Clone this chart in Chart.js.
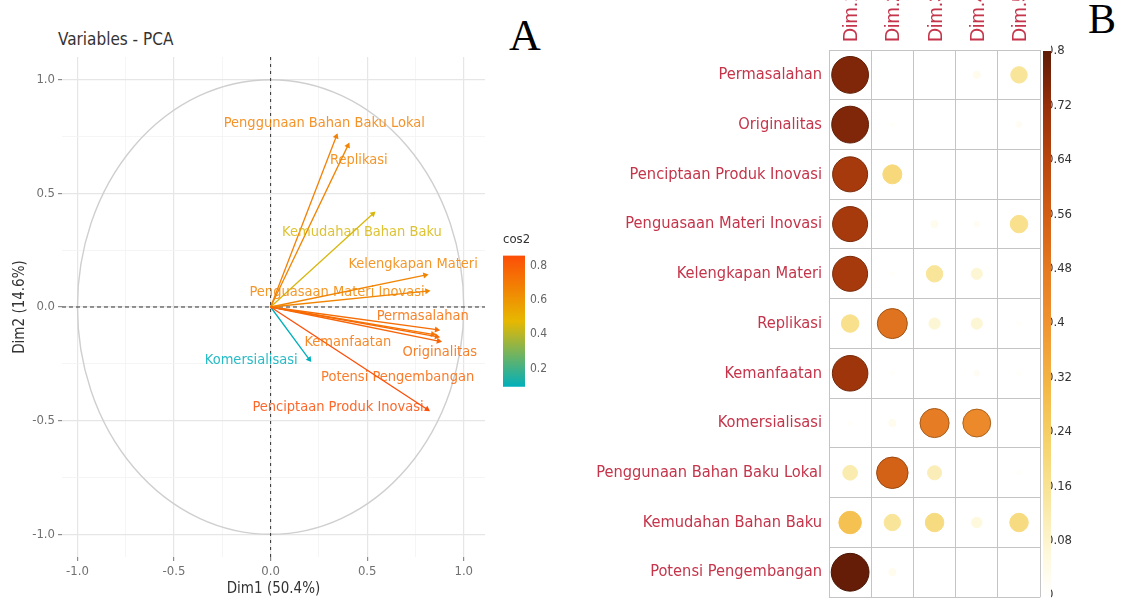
<!DOCTYPE html>
<html>
<head>
<meta charset="utf-8">
<script src="https://cdn.jsdelivr.net/npm/chart.js@4.4.1/dist/chart.umd.min.js"></script>
<style>
  html, body { margin:0; padding:0; background:#fff; width:1122px; height:598px; overflow:hidden; position:relative; }
  canvas { position:absolute; }
  #pca { left:0; top:0; }
  #cosbar { left:498px; top:224px; }
  #cor { left:560px; top:-60px; }
  #corbar { left:1030px; top:0; }
  .tag { position:absolute; font-family:"Liberation Serif","Times New Roman",serif; color:#000; line-height:1; }
  .ttl { position:absolute; font-family:"DejaVu Sans Condensed","Liberation Sans",sans-serif; color:#333; font-size:17px; line-height:1; }
</style>
</head>
<body>
<div class="ttl" style="left:58px;top:31px;">Variables - PCA</div>
<div class="tag" style="left:509px;top:14px;font-size:44px;">A</div>
<div class="tag" style="left:1088px;top:-2px;font-size:42px;">B</div>
<canvas id="pca" width="492" height="598"></canvas>
<canvas id="cosbar" width="62" height="175"></canvas>
<canvas id="cor" width="500" height="677"></canvas>
<canvas id="corbar" width="80" height="598"></canvas>
<script>
// ---- PCA variable coordinates (Dim1, Dim2) ----
const varNames = ['Permasalahan','Originalitas','Penciptaan Produk Inovasi','Penguasaan Materi Inovasi','Kelengkapan Materi','Replikasi','Kemanfaatan','Komersialisasi','Penggunaan Bahan Baku Lokal','Kemudahan Bahan Baku','Potensi Pengembangan'];
const dim1Coord = [0.86, 0.86, 0.81, 0.81, 0.80, 0.40, 0.84, 0.20, 0.34, 0.53, 0.87];
const dim2Coord = [-0.10, -0.13, -0.45, 0.07, 0.14, 0.71, -0.12, -0.23, 0.75, 0.41, -0.15];
const pcaTicks = [-1.0, -0.5, 0.0, 0.5, 1.0];
const cosTicks = [0.2, 0.4, 0.6, 0.8];

// ---- cos2 of each variable on Dim1..Dim5 (row order of the grid) ----
const rowLabels = ['Permasalahan','Originalitas','Penciptaan Produk Inovasi','Penguasaan Materi Inovasi','Kelengkapan Materi','Replikasi','Kemanfaatan','Komersialisasi','Penggunaan Bahan Baku Lokal','Kemudahan Bahan Baku','Potensi Pengembangan'];
const dimLabels = ['Dim.1','Dim.2','Dim.3','Dim.4','Dim.5'];
const dim1Cos2 = [0.75, 0.75, 0.68, 0.68, 0.68, 0.17, 0.70, 0.01, 0.12, 0.28, 0.79];
const dim2Cos2 = [0.00, 0.01, 0.20, 0.00, 0.01, 0.50, 0.01, 0.03, 0.55, 0.15, 0.03];
const dim3Cos2 = [0.00, 0.00, 0.00, 0.03, 0.15, 0.07, 0.00, 0.47, 0.11, 0.19, 0.00];
const dim4Cos2 = [0.03, 0.00, 0.00, 0.02, 0.07, 0.07, 0.02, 0.43, 0.00, 0.06, 0.00];
const dim5Cos2 = [0.15, 0.02, 0.00, 0.17, 0.00, 0.01, 0.01, 0.00, 0.01, 0.19, 0.00];
const corBarTicks = [0, 0.08, 0.16, 0.24, 0.32, 0.4, 0.48, 0.56, 0.64, 0.72, 0.8];

// ---- shared helpers ----
const SANS = '"DejaVu Sans Condensed", "Liberation Sans", sans-serif';
const hex = h => [1,3,5].map(k => parseInt(h.slice(k, k+2), 16));
function ramp(stops, t) {
  t = Math.max(stops[0][0], Math.min(stops[stops.length-1][0], t));
  for (let k = 1; k < stops.length; k++) {
    if (t <= stops[k][0]) {
      const [p0, c0] = stops[k-1], [p1, c1] = stops[k];
      const f = (t - p0) / (p1 - p0), a = hex(c0), b = hex(c1);
      return 'rgb(' + a.map((v, q) => Math.round(v + (b[q] - v) * f)).join(',') + ')';
    }
  }
  return stops[stops.length-1][1];
}
function darken(rgb, k) {
  const v = rgb.match(/\d+/g).map(Number).map(c => Math.round(c * k));
  return 'rgb(' + v.join(',') + ')';
}
// vertical gradient following a y scale; plain colour until the scale is laid out
function scaleGradient(c, lo, hi, stops, span, fallback) {
  const ys = c.chart.scales.y;
  if (!ys || !c.chart.chartArea) return fallback;
  const p0 = ys.getPixelForValue(lo), p1 = ys.getPixelForValue(hi);
  if (!isFinite(p0) || !isFinite(p1) || p0 === p1) return fallback;
  const g = c.chart.ctx.createLinearGradient(0, p0, 0, p1);
  stops.forEach(([p, col]) => g.addColorStop(p / span, col));
  return g;
}

// ---- Panel A: correlation circle ----
const cos2 = dim1Coord.map((x, i) => x * x + dim2Coord[i] * dim2Coord[i]);
const cosMin = Math.min(...cos2), cosMax = Math.max(...cos2);
const pcaStops = [[0, '#00AFBB'], [0.5, '#E7B800'], [1, '#FC4E07']];
const pcaColor = c => ramp(pcaStops, (c - cosMin) / (cosMax - cosMin));
// label offsets (px) from each arrow tip
const labelNudge = [[-14,-13],[3,16],[-89,-2],[-90,1],[-12,-11],[11,15],[-85,8],[-58,1],[-12,-13],[-11,18],[-41,36]];
const gridVals = [];
pcaTicks.forEach((t, k) => { gridVals.push(t); if (k < pcaTicks.length - 1) gridVals.push((t + pcaTicks[k+1]) / 2); });
const isMajor = v => pcaTicks.some(t => Math.abs(t - v) < 1e-9);

function arrowAngle(ctx) {
  const c = ctx.chart, xs = c.scales.x, ys = c.scales.y;
  const p = ctx.dataset.data[1];
  const dx = xs.getPixelForValue(p.x) - xs.getPixelForValue(0);
  const dy = ys.getPixelForValue(p.y) - ys.getPixelForValue(0);
  const a = Math.atan2(dx, -dy) * 180 / Math.PI;
  return isFinite(a) ? a : 0;
}

const guides = {
  id: 'guides',
  beforeDatasetsDraw(chart) {
    const { ctx, chartArea: a, scales: { x, y } } = chart;
    const cx = x.getPixelForValue(0), cy = y.getPixelForValue(0);
    const rx = x.getPixelForValue(1) - cx, ry = cy - y.getPixelForValue(1);
    ctx.save();
    ctx.strokeStyle = '#cfcfcf'; ctx.lineWidth = 1.4;
    ctx.beginPath(); ctx.ellipse(cx, cy, rx, ry, 0, 0, Math.PI * 2); ctx.stroke();
    ctx.setLineDash([4, 3]); ctx.strokeStyle = '#333'; ctx.lineWidth = 1;
    ctx.beginPath(); ctx.moveTo(a.left, cy); ctx.lineTo(a.right, cy); ctx.stroke();
    ctx.setLineDash([3, 4]);
    ctx.beginPath(); ctx.moveTo(cx, a.top); ctx.lineTo(cx, a.bottom); ctx.stroke();
    ctx.restore();
  }
};
const arrowLabels = {
  id: 'arrowLabels',
  afterDatasetsDraw(chart) {
    const { ctx, scales: { x, y } } = chart;
    ctx.save();
    ctx.font = '14.5px ' + SANS; ctx.textAlign = 'center'; ctx.textBaseline = 'middle';
    ctx.globalAlpha = 0.85;
    varNames.forEach((n, i) => {
      ctx.fillStyle = pcaColor(cos2[i]);
      ctx.fillText(n, x.getPixelForValue(dim1Coord[i]) + labelNudge[i][0], y.getPixelForValue(dim2Coord[i]) + labelNudge[i][1]);
    });
    ctx.restore();
  }
};

const pcaAxis = (title, fit, titlePad) => ({
  type: 'linear',
  afterBuildTicks: s => { s.ticks = gridVals.map(v => ({ value: v })); },
  afterFit: fit,
  border: { display: false },
  grid: {
    color: c => isMajor(c.tick.value) ? '#e6e6e6' : '#f2f2f2',
    lineWidth: c => isMajor(c.tick.value) ? 1.2 : 0.8,
    tickColor: c => isMajor(c.tick.value) ? '#8c8c8c' : 'rgba(0,0,0,0)',
    tickLength: 4
  },
  ticks: { callback: v => isMajor(v) ? v.toFixed(1) : '', color: '#707070', font: { family: SANS, size: 13 }, padding: 3, maxRotation: 0, autoSkip: false },
  title: { display: true, text: title, color: '#333', font: { family: SANS, size: 15 }, padding: titlePad }
});

new Chart(document.getElementById('pca'), {
  type: 'scatter',
  data: {
    datasets: varNames.map((n, i) => ({
      label: n,
      data: [{ x: 0, y: 0 }, { x: dim1Coord[i], y: dim2Coord[i] }],
      showLine: true,
      borderColor: pcaColor(cos2[i]),
      backgroundColor: pcaColor(cos2[i]),
      borderWidth: 1.3,
      pointRadius: [0, 3.5],
      pointHoverRadius: [0, 3.5],
      pointBorderWidth: 0,
      pointStyle: 'triangle',
      pointRotation: arrowAngle
    }))
  },
  options: {
    responsive: false, animation: false, events: [],
    layout: { padding: { left: 0, right: 7, top: 57, bottom: 0 } },
    plugins: { legend: { display: false }, tooltip: { enabled: false } },
    scales: {
      x: Object.assign(pcaAxis('Dim1 (50.4%)', s => { s.height = 41; }, { top: 0, bottom: 0 }), { min: -1.08, max: 1.11 }),
      y: Object.assign(pcaAxis('Dim2 (14.6%)', s => { s.width = 62; }, { top: 11, bottom: 0 }), { min: -1.1, max: 1.1 })
    }
  },
  plugins: [guides, arrowLabels]
});

// cos2 colour key
new Chart(document.getElementById('cosbar'), {
  type: 'bar',
  data: { labels: [''], datasets: [{ data: [[cosMin, cosMax]], borderWidth: 0, barPercentage: 1, categoryPercentage: 1,
    backgroundColor: c => scaleGradient(c, cosMin, cosMax, pcaStops, 1, '#E7B800') }] },
  options: {
    responsive: false, animation: false, events: [],
    layout: { padding: { left: 5, right: 0, top: 0, bottom: 5 } },
    plugins: { legend: { display: false }, tooltip: { enabled: false },
      title: { display: true, text: 'cos2', align: 'start', color: '#333', font: { family: SANS, size: 13, weight: 'normal' }, padding: { top: 8, bottom: 8 } } },
    scales: {
      x: { display: false },
      y: { position: 'right', min: cosMin, max: cosMax,
        afterBuildTicks: s => { s.ticks = cosTicks.map(v => ({ value: v })); },
        afterFit: s => { s.width = 35; },
        grid: { display: false, drawTicks: false }, border: { display: false },
        ticks: { callback: v => v.toFixed(1), color: '#666', font: { family: SANS, size: 12 }, padding: 5 } }
    }
  }
});

// ---- Panel B: cos2 grid ----
const corValues = [dim1Cos2, dim2Cos2, dim3Cos2, dim4Cos2, dim5Cos2];
const corStops = [[0, '#FFFFFF'], [0.06, '#FEF8DC'], [0.14, '#F9E7A0'], [0.22, '#F6D46E'], [0.30, '#F4BA48'], [0.40, '#F09330'], [0.48, '#E57A22'], [0.56, '#D25E14'], [0.64, '#B8460E'], [0.72, '#962F0A'], [0.80, '#5E1A06']];
const corColor = v => ramp(corStops, v);
const R_MAX = 19, V_MAX = 0.8;
const corPoints = [];
dimLabels.forEach((d, j) => rowLabels.forEach((r, i) => {
  const v = corValues[j][i];
  corPoints.push({ x: d, y: r, v: v, r: R_MAX * Math.sqrt(v / V_MAX) });
}));
const RED = '#C4344A';
new Chart(document.getElementById('cor'), {
  type: 'bubble',
  data: { datasets: [{ data: corPoints,
    backgroundColor: c => corColor(c.raw.v),
    borderColor: c => c.raw.v >= 0.3 ? darken(corColor(c.raw.v), 0.72) : corColor(c.raw.v),
    borderWidth: 1 }] },
  options: {
    responsive: false, animation: false, events: [],
    layout: { padding: { left: 0, right: 12, top: 0, bottom: 1 } },
    plugins: { legend: { display: false }, tooltip: { enabled: false } },
    scales: {
      x: { type: 'category', labels: dimLabels, position: 'top', offset: true,
        afterFit: s => { s.height = 110; },
        grid: { offset: true, color: '#c4c4c4', drawTicks: false }, border: { color: '#c4c4c4' },
        ticks: { minRotation: 90, maxRotation: 90, autoSkip: false, labelOffset: 25, color: RED, font: { family: '"Liberation Sans", Arial, sans-serif', size: 19.5 }, padding: 8 } },
      y: { type: 'category', labels: rowLabels, offset: true,
        afterFit: s => { s.width = 269; },
        grid: { offset: true, color: '#c4c4c4', drawTicks: false }, border: { color: '#c4c4c4' },
        ticks: { autoSkip: false, color: RED, font: { family: SANS, size: 16.3 }, padding: 7 } }
    }
  }
});

// colour bar for panel B
new Chart(document.getElementById('corbar'), {
  type: 'bar',
  data: { labels: [''], datasets: [{ data: [[0, V_MAX]], borderWidth: 0, barPercentage: 1, categoryPercentage: 1,
    backgroundColor: c => scaleGradient(c, 0, V_MAX, corStops, V_MAX, '#F09330') }] },
  options: {
    responsive: false, animation: false, events: [],
    layout: { padding: { left: 13, right: 0, top: 51, bottom: 3 } },
    plugins: { legend: { display: false }, tooltip: { enabled: false } },
    scales: {
      x: { display: false },
      y: { position: 'right', min: 0, max: V_MAX,
        afterBuildTicks: s => { s.ticks = corBarTicks.map(v => ({ value: v })); },
        afterFit: s => { s.width = 59; },
        grid: { display: false, drawTicks: false }, border: { display: false },
        ticks: { callback: v => String(v), color: '#333', font: { family: SANS, size: 13 }, padding: -5 } }
    }
  }
});
</script>
</body>
</html>
